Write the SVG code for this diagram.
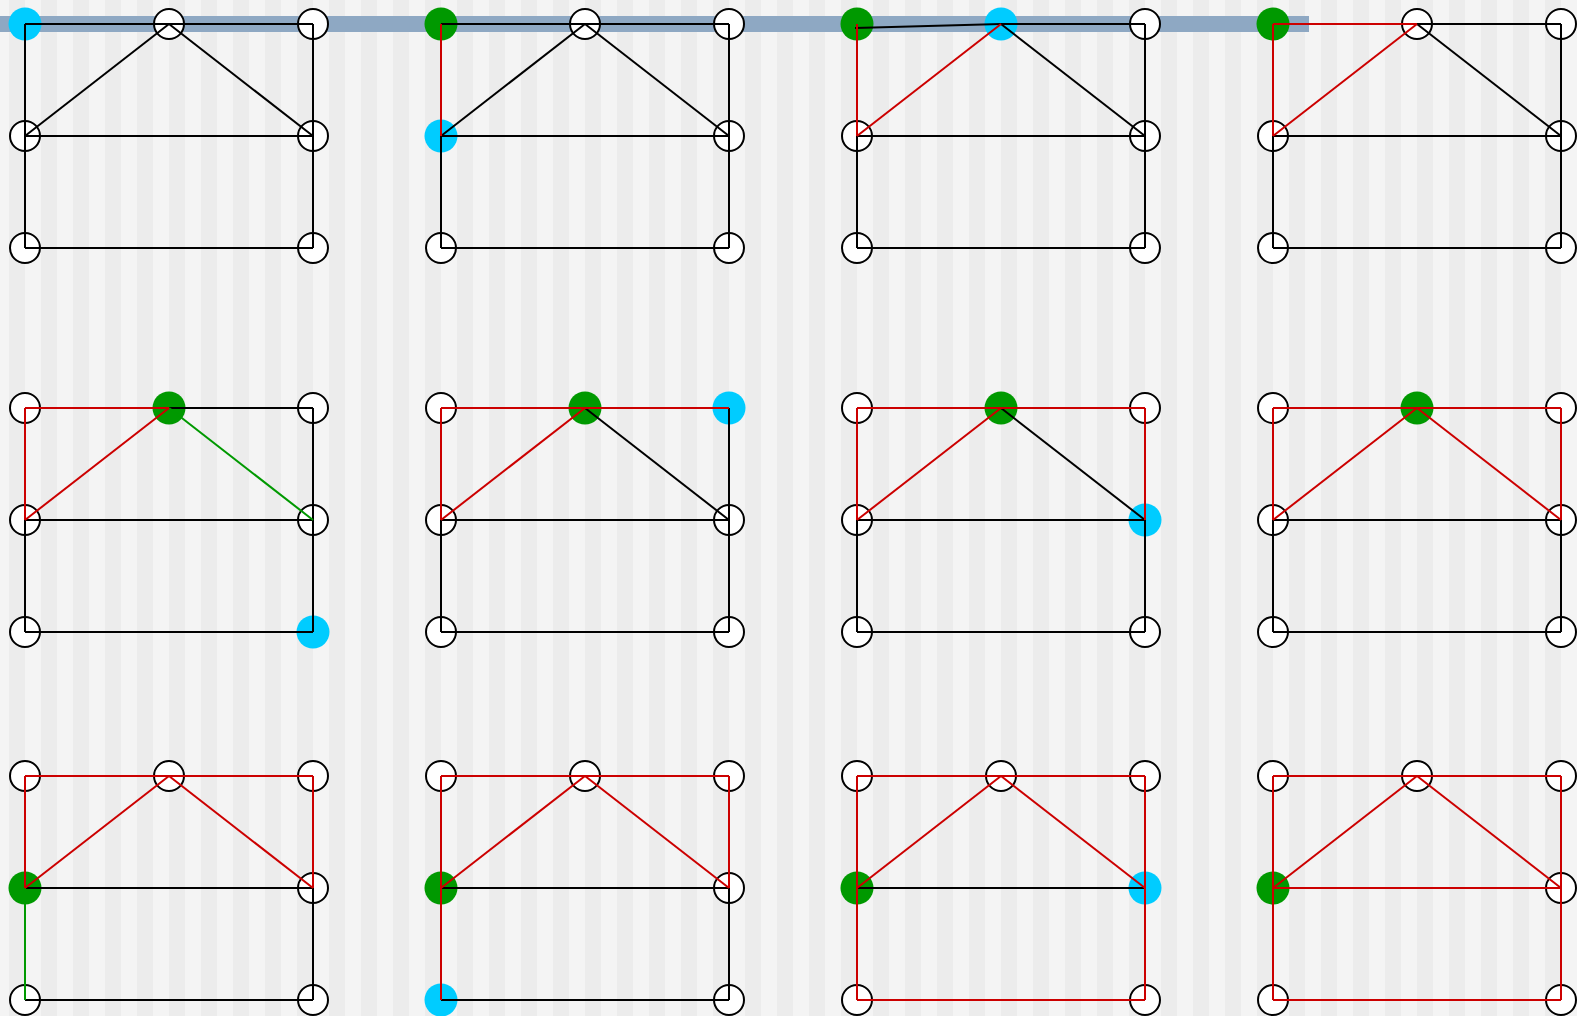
<svg xmlns="http://www.w3.org/2000/svg" width="1577" height="1016" viewBox="0 0 1577 1016">
<defs>
<pattern id="stripes" patternUnits="userSpaceOnUse" x="9" y="0" width="32" height="16">
<rect x="0" y="0" width="16" height="16" fill="#ececec"/>
</pattern>
</defs>
<style>
.n circle{fill:#ffffff;stroke:#000000;stroke-width:2}
.n.cur circle{fill:#00ccff;stroke:none}
.n.vis circle{fill:#009900;stroke:none}
.e line{stroke:#000000;stroke-width:2;stroke-linecap:butt}
.e line.r{stroke:#cc0000}
.e line.g{stroke:#009900}
</style>
<rect x="0" y="0" width="1577" height="1016" fill="#f4f4f4"/>
<rect x="0" y="0" width="1577" height="1016" fill="url(#stripes)"/>
<rect id="bar" x="0" y="16" width="1309" height="16" fill="#8ea8c3"/>

<g id="nodes">
<g id="p1" transform="translate(0,0)">
<g id="p1-TL" class="n cur"><circle cx="25" cy="24" r="16.5"/></g>
<g id="p1-TM" class="n"><circle cx="169" cy="24" r="15"/></g>
<g id="p1-TR" class="n"><circle cx="313" cy="24" r="15"/></g>
<g id="p1-ML" class="n"><circle cx="25" cy="136" r="15"/></g>
<g id="p1-MR" class="n"><circle cx="313" cy="136" r="15"/></g>
<g id="p1-BL" class="n"><circle cx="25" cy="248" r="15"/></g>
<g id="p1-BR" class="n"><circle cx="313" cy="248" r="15"/></g>
</g>
<g id="p2" transform="translate(416,0)">
<g id="p2-TL" class="n vis"><circle cx="25" cy="24" r="16.5"/></g>
<g id="p2-TM" class="n"><circle cx="169" cy="24" r="15"/></g>
<g id="p2-TR" class="n"><circle cx="313" cy="24" r="15"/></g>
<g id="p2-ML" class="n cur"><circle cx="25" cy="136" r="16.5"/></g>
<g id="p2-MR" class="n"><circle cx="313" cy="136" r="15"/></g>
<g id="p2-BL" class="n"><circle cx="25" cy="248" r="15"/></g>
<g id="p2-BR" class="n"><circle cx="313" cy="248" r="15"/></g>
</g>
<g id="p3" transform="translate(832,0)">
<g id="p3-TL" class="n vis"><circle cx="25" cy="24" r="16.5"/></g>
<g id="p3-TM" class="n cur"><circle cx="169" cy="24" r="16.5"/></g>
<g id="p3-TR" class="n"><circle cx="313" cy="24" r="15"/></g>
<g id="p3-ML" class="n"><circle cx="25" cy="136" r="15"/></g>
<g id="p3-MR" class="n"><circle cx="313" cy="136" r="15"/></g>
<g id="p3-BL" class="n"><circle cx="25" cy="248" r="15"/></g>
<g id="p3-BR" class="n"><circle cx="313" cy="248" r="15"/></g>
</g>
<g id="p4" transform="translate(1248,0)">
<g id="p4-TL" class="n vis"><circle cx="25" cy="24" r="16.5"/></g>
<g id="p4-TM" class="n"><circle cx="169" cy="24" r="15"/></g>
<g id="p4-TR" class="n"><circle cx="313" cy="24" r="15"/></g>
<g id="p4-ML" class="n"><circle cx="25" cy="136" r="15"/></g>
<g id="p4-MR" class="n"><circle cx="313" cy="136" r="15"/></g>
<g id="p4-BL" class="n"><circle cx="25" cy="248" r="15"/></g>
<g id="p4-BR" class="n"><circle cx="313" cy="248" r="15"/></g>
</g>
<g id="p5" transform="translate(0,384)">
<g id="p5-TL" class="n"><circle cx="25" cy="24" r="15"/></g>
<g id="p5-TM" class="n vis"><circle cx="169" cy="24" r="16.5"/></g>
<g id="p5-TR" class="n"><circle cx="313" cy="24" r="15"/></g>
<g id="p5-ML" class="n"><circle cx="25" cy="136" r="15"/></g>
<g id="p5-MR" class="n"><circle cx="313" cy="136" r="15"/></g>
<g id="p5-BL" class="n"><circle cx="25" cy="248" r="15"/></g>
<g id="p5-BR" class="n cur"><circle cx="313" cy="248" r="16.5"/></g>
</g>
<g id="p6" transform="translate(416,384)">
<g id="p6-TL" class="n"><circle cx="25" cy="24" r="15"/></g>
<g id="p6-TM" class="n vis"><circle cx="169" cy="24" r="16.5"/></g>
<g id="p6-TR" class="n cur"><circle cx="313" cy="24" r="16.5"/></g>
<g id="p6-ML" class="n"><circle cx="25" cy="136" r="15"/></g>
<g id="p6-MR" class="n"><circle cx="313" cy="136" r="15"/></g>
<g id="p6-BL" class="n"><circle cx="25" cy="248" r="15"/></g>
<g id="p6-BR" class="n"><circle cx="313" cy="248" r="15"/></g>
</g>
<g id="p7" transform="translate(832,384)">
<g id="p7-TL" class="n"><circle cx="25" cy="24" r="15"/></g>
<g id="p7-TM" class="n vis"><circle cx="169" cy="24" r="16.5"/></g>
<g id="p7-TR" class="n"><circle cx="313" cy="24" r="15"/></g>
<g id="p7-ML" class="n"><circle cx="25" cy="136" r="15"/></g>
<g id="p7-MR" class="n cur"><circle cx="313" cy="136" r="16.5"/></g>
<g id="p7-BL" class="n"><circle cx="25" cy="248" r="15"/></g>
<g id="p7-BR" class="n"><circle cx="313" cy="248" r="15"/></g>
</g>
<g id="p8" transform="translate(1248,384)">
<g id="p8-TL" class="n"><circle cx="25" cy="24" r="15"/></g>
<g id="p8-TM" class="n vis"><circle cx="169" cy="24" r="16.5"/></g>
<g id="p8-TR" class="n"><circle cx="313" cy="24" r="15"/></g>
<g id="p8-ML" class="n"><circle cx="25" cy="136" r="15"/></g>
<g id="p8-MR" class="n"><circle cx="313" cy="136" r="15"/></g>
<g id="p8-BL" class="n"><circle cx="25" cy="248" r="15"/></g>
<g id="p8-BR" class="n"><circle cx="313" cy="248" r="15"/></g>
</g>
<g id="p9" transform="translate(0,752)">
<g id="p9-TL" class="n"><circle cx="25" cy="24" r="15"/></g>
<g id="p9-TM" class="n"><circle cx="169" cy="24" r="15"/></g>
<g id="p9-TR" class="n"><circle cx="313" cy="24" r="15"/></g>
<g id="p9-ML" class="n vis"><circle cx="25" cy="136" r="16.5"/></g>
<g id="p9-MR" class="n"><circle cx="313" cy="136" r="15"/></g>
<g id="p9-BL" class="n"><circle cx="25" cy="248" r="15"/></g>
<g id="p9-BR" class="n"><circle cx="313" cy="248" r="15"/></g>
</g>
<g id="p10" transform="translate(416,752)">
<g id="p10-TL" class="n"><circle cx="25" cy="24" r="15"/></g>
<g id="p10-TM" class="n"><circle cx="169" cy="24" r="15"/></g>
<g id="p10-TR" class="n"><circle cx="313" cy="24" r="15"/></g>
<g id="p10-ML" class="n vis"><circle cx="25" cy="136" r="16.5"/></g>
<g id="p10-MR" class="n"><circle cx="313" cy="136" r="15"/></g>
<g id="p10-BL" class="n cur"><circle cx="25" cy="248" r="16.5"/></g>
<g id="p10-BR" class="n"><circle cx="313" cy="248" r="15"/></g>
</g>
<g id="p11" transform="translate(832,752)">
<g id="p11-TL" class="n"><circle cx="25" cy="24" r="15"/></g>
<g id="p11-TM" class="n"><circle cx="169" cy="24" r="15"/></g>
<g id="p11-TR" class="n"><circle cx="313" cy="24" r="15"/></g>
<g id="p11-ML" class="n vis"><circle cx="25" cy="136" r="16.5"/></g>
<g id="p11-MR" class="n cur"><circle cx="313" cy="136" r="16.5"/></g>
<g id="p11-BL" class="n"><circle cx="25" cy="248" r="15"/></g>
<g id="p11-BR" class="n"><circle cx="313" cy="248" r="15"/></g>
</g>
<g id="p12" transform="translate(1248,752)">
<g id="p12-TL" class="n"><circle cx="25" cy="24" r="15"/></g>
<g id="p12-TM" class="n"><circle cx="169" cy="24" r="15"/></g>
<g id="p12-TR" class="n"><circle cx="313" cy="24" r="15"/></g>
<g id="p12-ML" class="n vis"><circle cx="25" cy="136" r="16.5"/></g>
<g id="p12-MR" class="n"><circle cx="313" cy="136" r="15"/></g>
<g id="p12-BL" class="n"><circle cx="25" cy="248" r="15"/></g>
<g id="p12-BR" class="n"><circle cx="313" cy="248" r="15"/></g>
</g>
</g>

<g id="connectors" class="e">
<g transform="translate(0,0)">
<line x1="25" y1="24" x2="169" y2="24"/>
<line x1="169" y1="24" x2="313" y2="24"/>
<line x1="25" y1="24" x2="25" y2="136"/>
<line x1="25" y1="136" x2="25" y2="248"/>
<line x1="313" y1="24" x2="313" y2="136"/>
<line x1="313" y1="136" x2="313" y2="248"/>
<line x1="25" y1="136" x2="313" y2="136"/>
<line x1="25" y1="248" x2="313" y2="248"/>
<line x1="25" y1="136" x2="169" y2="24"/>
<line x1="169" y1="24" x2="313" y2="136"/>
</g>
<g transform="translate(416,0)">
<line x1="25" y1="24" x2="169" y2="24"/>
<line x1="169" y1="24" x2="313" y2="24"/>
<line x1="25" y1="136" x2="25" y2="248"/>
<line x1="313" y1="24" x2="313" y2="136"/>
<line x1="313" y1="136" x2="313" y2="248"/>
<line x1="25" y1="136" x2="313" y2="136"/>
<line x1="25" y1="248" x2="313" y2="248"/>
<line x1="25" y1="136" x2="169" y2="24"/>
<line x1="169" y1="24" x2="313" y2="136"/>
<line class="r" x1="25" y1="24" x2="25" y2="136"/>
</g>
<g transform="translate(832,0)">
<line x1="23" y1="28" x2="169" y2="24"/>
<line x1="169" y1="24" x2="313" y2="24"/>
<line x1="25" y1="136" x2="25" y2="248"/>
<line x1="313" y1="24" x2="313" y2="136"/>
<line x1="313" y1="136" x2="313" y2="248"/>
<line x1="25" y1="136" x2="313" y2="136"/>
<line x1="25" y1="248" x2="313" y2="248"/>
<line x1="169" y1="24" x2="313" y2="136"/>
<line class="r" x1="25" y1="24" x2="25" y2="136"/>
<line class="r" x1="25" y1="136" x2="169" y2="24"/>
</g>
<g transform="translate(1248,0)">
<line x1="169" y1="24" x2="313" y2="24"/>
<line x1="25" y1="136" x2="25" y2="248"/>
<line x1="313" y1="24" x2="313" y2="136"/>
<line x1="313" y1="136" x2="313" y2="248"/>
<line x1="25" y1="136" x2="313" y2="136"/>
<line x1="25" y1="248" x2="313" y2="248"/>
<line x1="169" y1="24" x2="313" y2="136"/>
<line class="r" x1="25" y1="24" x2="169" y2="24"/>
<line class="r" x1="25" y1="24" x2="25" y2="136"/>
<line class="r" x1="25" y1="136" x2="169" y2="24"/>
</g>
<g transform="translate(0,384)">
<line x1="169" y1="24" x2="313" y2="24"/>
<line x1="25" y1="136" x2="25" y2="248"/>
<line x1="313" y1="24" x2="313" y2="136"/>
<line x1="313" y1="136" x2="313" y2="248"/>
<line x1="25" y1="136" x2="313" y2="136"/>
<line x1="25" y1="248" x2="313" y2="248"/>
<line class="g" x1="169" y1="24" x2="313" y2="136"/>
<line class="r" x1="25" y1="24" x2="169" y2="24"/>
<line class="r" x1="25" y1="24" x2="25" y2="136"/>
<line class="r" x1="25" y1="136" x2="169" y2="24"/>
</g>
<g transform="translate(416,384)">
<line x1="25" y1="136" x2="25" y2="248"/>
<line x1="313" y1="24" x2="313" y2="136"/>
<line x1="313" y1="136" x2="313" y2="248"/>
<line x1="25" y1="136" x2="313" y2="136"/>
<line x1="25" y1="248" x2="313" y2="248"/>
<line x1="169" y1="24" x2="313" y2="136"/>
<line class="r" x1="25" y1="24" x2="169" y2="24"/>
<line class="r" x1="169" y1="24" x2="313" y2="24"/>
<line class="r" x1="25" y1="24" x2="25" y2="136"/>
<line class="r" x1="25" y1="136" x2="169" y2="24"/>
</g>
<g transform="translate(832,384)">
<line x1="25" y1="136" x2="25" y2="248"/>
<line x1="313" y1="136" x2="313" y2="248"/>
<line x1="25" y1="136" x2="313" y2="136"/>
<line x1="25" y1="248" x2="313" y2="248"/>
<line x1="169" y1="24" x2="313" y2="136"/>
<line class="r" x1="25" y1="24" x2="169" y2="24"/>
<line class="r" x1="169" y1="24" x2="313" y2="24"/>
<line class="r" x1="25" y1="24" x2="25" y2="136"/>
<line class="r" x1="313" y1="24" x2="313" y2="136"/>
<line class="r" x1="25" y1="136" x2="169" y2="24"/>
</g>
<g transform="translate(1248,384)">
<line x1="25" y1="136" x2="25" y2="248"/>
<line x1="313" y1="136" x2="313" y2="248"/>
<line x1="25" y1="136" x2="313" y2="136"/>
<line x1="25" y1="248" x2="313" y2="248"/>
<line class="r" x1="25" y1="24" x2="169" y2="24"/>
<line class="r" x1="169" y1="24" x2="313" y2="24"/>
<line class="r" x1="25" y1="24" x2="25" y2="136"/>
<line class="r" x1="313" y1="24" x2="313" y2="136"/>
<line class="r" x1="25" y1="136" x2="169" y2="24"/>
<line class="r" x1="169" y1="24" x2="313" y2="136"/>
</g>
<g transform="translate(0,752)">
<line x1="313" y1="136" x2="313" y2="248"/>
<line x1="25" y1="136" x2="313" y2="136"/>
<line x1="25" y1="248" x2="313" y2="248"/>
<line class="g" x1="25" y1="136" x2="25" y2="248"/>
<line class="r" x1="25" y1="24" x2="169" y2="24"/>
<line class="r" x1="169" y1="24" x2="313" y2="24"/>
<line class="r" x1="25" y1="24" x2="25" y2="136"/>
<line class="r" x1="313" y1="24" x2="313" y2="136"/>
<line class="r" x1="25" y1="136" x2="169" y2="24"/>
<line class="r" x1="169" y1="24" x2="313" y2="136"/>
</g>
<g transform="translate(416,752)">
<line x1="313" y1="136" x2="313" y2="248"/>
<line x1="25" y1="136" x2="313" y2="136"/>
<line x1="25" y1="248" x2="313" y2="248"/>
<line class="r" x1="25" y1="136" x2="25" y2="248"/>
<line class="r" x1="25" y1="24" x2="169" y2="24"/>
<line class="r" x1="169" y1="24" x2="313" y2="24"/>
<line class="r" x1="25" y1="24" x2="25" y2="136"/>
<line class="r" x1="313" y1="24" x2="313" y2="136"/>
<line class="r" x1="25" y1="136" x2="169" y2="24"/>
<line class="r" x1="169" y1="24" x2="313" y2="136"/>
</g>
<g transform="translate(832,752)">
<line x1="25" y1="136" x2="313" y2="136"/>
<line class="r" x1="313" y1="136" x2="313" y2="248"/>
<line class="r" x1="25" y1="248" x2="313" y2="248"/>
<line class="r" x1="25" y1="136" x2="25" y2="248"/>
<line class="r" x1="25" y1="24" x2="169" y2="24"/>
<line class="r" x1="169" y1="24" x2="313" y2="24"/>
<line class="r" x1="25" y1="24" x2="25" y2="136"/>
<line class="r" x1="313" y1="24" x2="313" y2="136"/>
<line class="r" x1="25" y1="136" x2="169" y2="24"/>
<line class="r" x1="169" y1="24" x2="313" y2="136"/>
</g>
<g transform="translate(1248,752)">
<line class="r" x1="25" y1="136" x2="313" y2="136"/>
<line class="r" x1="313" y1="136" x2="313" y2="248"/>
<line class="r" x1="25" y1="248" x2="313" y2="248"/>
<line class="r" x1="25" y1="136" x2="25" y2="248"/>
<line class="r" x1="25" y1="24" x2="169" y2="24"/>
<line class="r" x1="169" y1="24" x2="313" y2="24"/>
<line class="r" x1="25" y1="24" x2="25" y2="136"/>
<line class="r" x1="313" y1="24" x2="313" y2="136"/>
<line class="r" x1="25" y1="136" x2="169" y2="24"/>
<line class="r" x1="169" y1="24" x2="313" y2="136"/>
</g>
</g>
</svg>
